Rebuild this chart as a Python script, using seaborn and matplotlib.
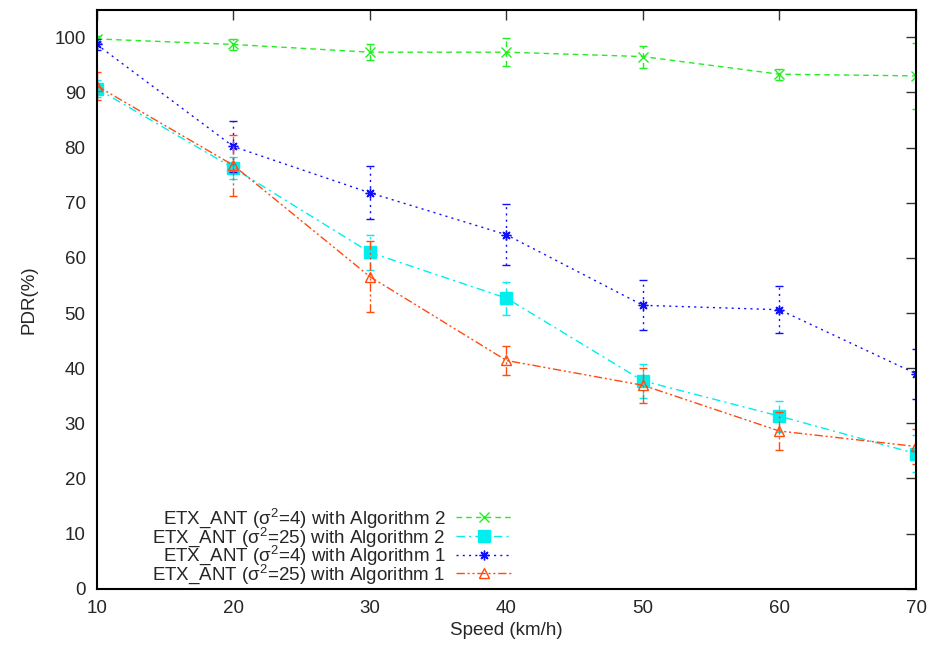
import matplotlib
matplotlib.use("Agg")
import matplotlib.pyplot as plt
import seaborn as sns
import pandas as pd

# speeds and PDR values
speed = [10, 20, 30, 40, 50, 60, 70]

pdr_s4_alg2 = [99.7, 98.7, 97.3, 97.3, 96.5, 93.3, 93.0]
err_s4_alg2 = [0.5, 1.0, 1.5, 2.5, 2.0, 1.0, 6.0]

pdr_s25_alg2 = [90.7, 76.3, 61.0, 52.7, 37.7, 31.3, 24.5]
err_s25_alg2 = [1.5, 2.0, 3.2, 3.0, 3.1, 2.8, 3.4]

pdr_s4_alg1 = [98.7, 80.2, 71.8, 64.2, 51.4, 50.6, 39.0]
err_s4_alg1 = [1.0, 4.7, 4.8, 5.5, 4.5, 4.3, 4.5]

pdr_s25_alg1 = [91.2, 76.8, 56.6, 41.4, 36.9, 28.6, 25.8]
err_s25_alg1 = [2.5, 5.5, 6.4, 2.7, 3.2, 3.5, 3.2]

labels = [r"ETX_ANT ($\mathrm{\sigma}^2$=4) with Algorithm 2",
          r"ETX_ANT ($\mathrm{\sigma}^2$=25) with Algorithm 2",
          r"ETX_ANT ($\mathrm{\sigma}^2$=4) with Algorithm 1",
          r"ETX_ANT ($\mathrm{\sigma}^2$=25) with Algorithm 1"]

sns.set_style("white")
plt.rcParams['font.family'] = ['Liberation Sans', 'DejaVu Sans']
plt.rcParams['mathtext.fontset'] = 'custom'
plt.rcParams['mathtext.rm'] = 'Liberation Sans'
plt.rcParams['mathtext.it'] = 'Liberation Sans:italic'

fs = 13.5

# style for each series: colour, dash pattern, marker, marker filled or not
series = [
    (pdr_s4_alg2, err_s4_alg2, "#22ee22", (0, (4, 3)), "x", True),
    (pdr_s25_alg2, err_s25_alg2, "#00eeee", (0, (6, 3, 1.5, 3)), "s", True),
    (pdr_s4_alg1, err_s4_alg1, "#1010ff", (0, (1.5, 3)), (8, 2, 0), True),
    (pdr_s25_alg1, err_s25_alg1, "#ff4a10", (0, (6, 2, 1.5, 2, 1.5, 2)), "^", False),
]

fig, ax = plt.subplots(figsize=(9.3, 6.47), dpi=100)
fig.subplots_adjust(left=0.104, right=0.985, top=0.985, bottom=0.09)

for (vals, errs, col, ls, mk, filled), lab in zip(series, labels):
    df = pd.DataFrame({"speed": speed, "pdr": vals})
    sns.lineplot(data=df, x="speed", y="pdr", ax=ax, color=col, linewidth=1.0,
                 linestyle=ls, marker=mk, markersize=8 if mk == "s" else 7,
                 markerfacecolor=col if filled else "none", markeredgecolor=col,
                 markeredgewidth=1.0, label=lab, legend=False)
    eb = ax.errorbar(speed, vals, yerr=errs, fmt="none", ecolor=col, elinewidth=1.0,
                     capsize=3, capthick=1.0)
    for bl in eb[2]:
        bl.set_linestyle(ls)

line_handles = [l for l in ax.lines if l.get_label() in labels]
ax.legend(line_handles, labels, loc="lower right", bbox_to_anchor=(0.51, -0.002),
          frameon=False, markerfirst=False, fontsize=fs, handlelength=2.9,
          labelspacing=-0.25, handletextpad=0.6, borderaxespad=0, borderpad=0.2)

ax.set_xlim(10, 70)
ax.set_ylim(0, 105)
ax.set_xticks(speed)
ax.set_yticks(range(0, 101, 10))
ax.tick_params(direction="in", length=7, width=1, labelsize=fs, top=True, right=True,
               pad=8, color="#333333")
for sp in ax.spines.values():
    sp.set_visible(True)
    sp.set_color("black")
    sp.set_linewidth(1.5)

ax.set_xlabel("Speed (km/h)", fontsize=fs, labelpad=4)
ax.set_ylabel("PDR(%)", fontsize=fs, labelpad=12)

fig.savefig("out.png", dpi=100)
